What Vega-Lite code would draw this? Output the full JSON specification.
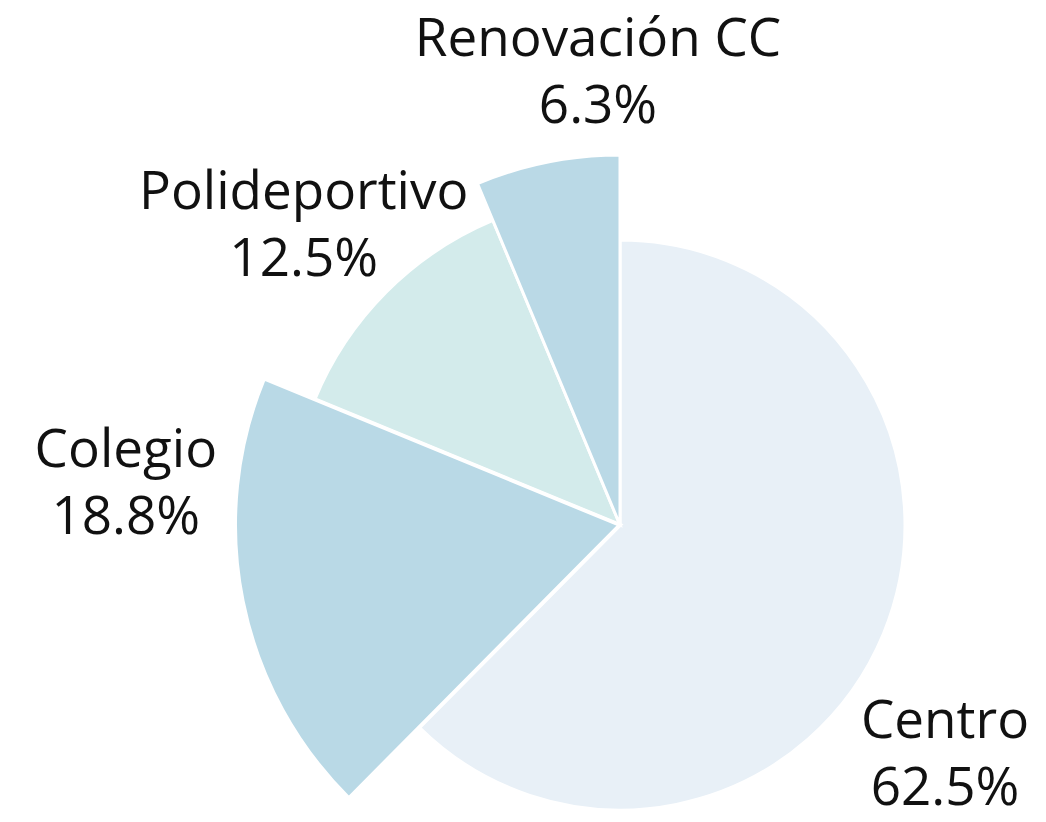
{
  "$schema": "https://vega.github.io/schema/vega-lite/v6.json",
  "autosize": "none",
  "width": 852,
  "height": 594,
  "padding": {"left": 194, "top": 228, "right": 0, "bottom": 0},
  "background": "#ffffff",
  "config": {"view": {"stroke": null}, "text": {"font": "Open Sans", "fontSize": 53, "fontWeight": 400, "lineBreak": "\n", "lineHeight": 67, "color": "#111111"}},
  "data": {"values": [
    {"categoria": "Centro", "porcentaje": 62.5, "etiqueta": "Centro\n62.5%"},
    {"categoria": "Colegio", "porcentaje": 18.8, "etiqueta": "Colegio\n18.8%"},
    {"categoria": "Polideportivo", "porcentaje": 12.5, "etiqueta": "Polideportivo\n12.5%"},
    {"categoria": "Renovación CC", "porcentaje": 6.3, "etiqueta": "Renovación CC\n6.3%"}
  ]},
  "encoding": {
    "theta": {"field": "porcentaje", "type": "quantitative", "stack": true},
    "order": {"field": "categoria", "type": "ordinal", "sort": "ascending"}
  },
  "layer": [
    {
      "mark": {"type": "arc", "radius": 285, "stroke": "#ffffff", "strokeWidth": 3},
      "encoding": {
        "color": {"field": "categoria", "type": "nominal", "legend": null,
          "scale": {"domain": ["Centro", "Colegio", "Polideportivo", "Renovación CC"], "range": ["#e8f0f7", "#b9d9e6", "#d3ebeb", "#bad9e6"]}},
        "fillOpacity": {"condition": {"test": "datum.categoria === 'Centro'", "value": 1}, "value": 0},
        "strokeOpacity": {"condition": {"test": "datum.categoria === 'Centro'", "value": 1}, "value": 0}
      }
    },
    {
      "mark": {"type": "arc", "radius": 330, "stroke": "#ffffff", "strokeWidth": 3},
      "encoding": {
        "color": {"field": "categoria", "type": "nominal", "legend": null},
        "fillOpacity": {"condition": {"test": "datum.categoria === 'Polideportivo'", "value": 1}, "value": 0},
        "strokeOpacity": {"condition": {"test": "datum.categoria === 'Polideportivo'", "value": 1}, "value": 0}
      }
    },
    {
      "mark": {"type": "arc", "radius": 370, "stroke": "#ffffff", "strokeWidth": 3},
      "encoding": {
        "color": {"field": "categoria", "type": "nominal", "legend": null},
        "fillOpacity": {"condition": {"test": "datum.categoria === 'Renovación CC'", "value": 1}, "value": 0},
        "strokeOpacity": {"condition": {"test": "datum.categoria === 'Renovación CC'", "value": 1}, "value": 0}
      }
    },
    {
      "mark": {"type": "arc", "radius": 385, "stroke": "#ffffff", "strokeWidth": 4},
      "encoding": {
        "color": {"field": "categoria", "type": "nominal", "legend": null},
        "fillOpacity": {"condition": {"test": "datum.categoria === 'Colegio'", "value": 1}, "value": 0},
        "strokeOpacity": {"condition": {"test": "datum.categoria === 'Colegio'", "value": 1}, "value": 0}
      }
    },
    {
      "mark": {"type": "text", "radius": 398, "dx": -43, "dy": 45, "align": "center", "baseline": "middle", "color": "#111111"},
      "encoding": {"text": {"condition": {"test": "datum.categoria === 'Centro'", "field": "etiqueta"}, "value": ""}}
    },
    {
      "mark": {"type": "text", "radius": 497, "dx": -7, "dy": -172, "align": "center", "baseline": "middle", "color": "#111111"},
      "encoding": {"text": {"condition": {"test": "datum.categoria === 'Colegio'", "field": "etiqueta"}, "value": ""}}
    },
    {
      "mark": {"type": "text", "radius": 435, "dx": -8, "dy": -25, "align": "center", "baseline": "middle", "color": "#111111"},
      "encoding": {"text": {"condition": {"test": "datum.categoria === 'Polideportivo'", "field": "etiqueta"}, "value": ""}}
    },
    {
      "mark": {"type": "text", "radius": 453, "dx": 67, "dy": -41, "align": "center", "baseline": "middle", "color": "#111111"},
      "encoding": {"text": {"condition": {"test": "datum.categoria === 'Renovación CC'", "field": "etiqueta"}, "value": ""}}
    }
  ]
}
